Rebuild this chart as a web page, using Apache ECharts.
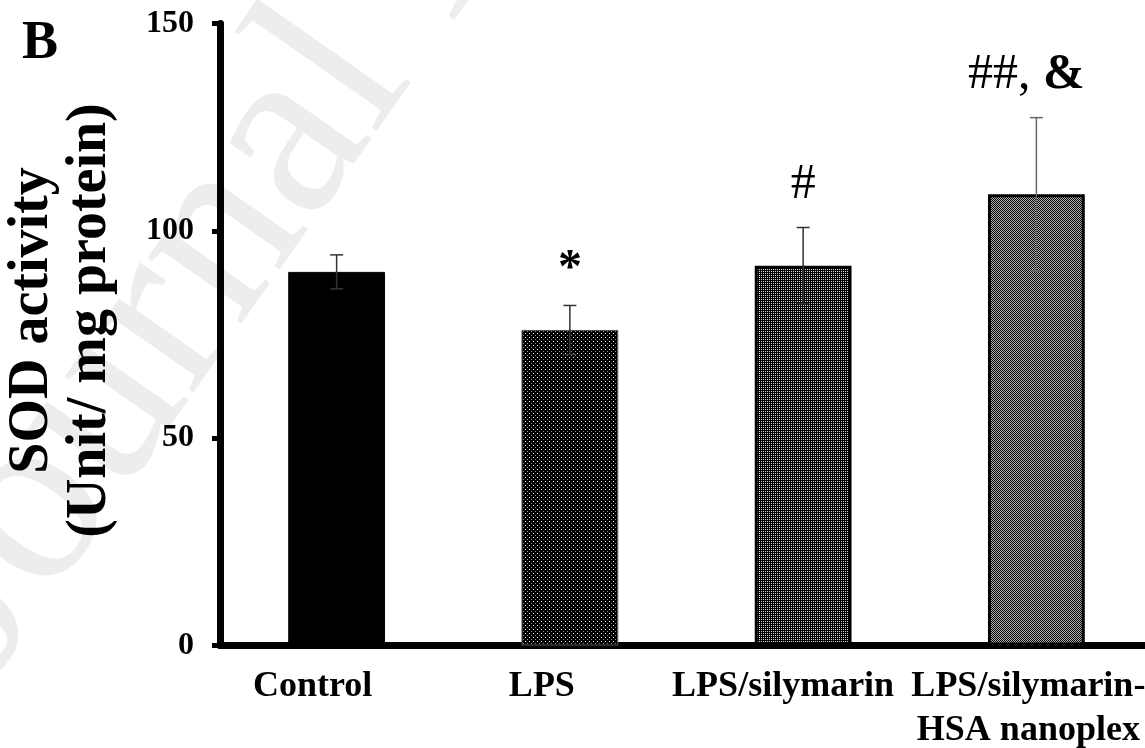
<!DOCTYPE html>
<html>
<head>
<meta charset="utf-8">
<script src="https://cdn.jsdelivr.net/npm/echarts@6/dist/echarts.min.js"></script>
<style>
html,body{margin:0;padding:0;background:#fff;}
#chart{width:1145px;height:748px;}
</style>
</head>
<body>
<div id="chart"></div>
<script>
const categories = ['Control', 'LPS', 'LPS/silymarin', 'LPS/silymarin-\nHSA nanoplex'];
const meanValues = [90.1, 76.1, 91.6, 108.8];
const sdValues = [4.1, 5.9, 9.2, 18.5];
const significance = ['', '*', '#', '##, &'];
const yTickLabels = [0, 50, 100, 150];

function makePattern(size, draw) {
  const c = document.createElement('canvas');
  c.width = size; c.height = size;
  const ctx = c.getContext('2d');
  draw(ctx);
  return c;
}
const lpsPattern = makePattern(4, ctx => {
  ctx.fillStyle = '#000'; ctx.fillRect(0, 0, 4, 4);
  ctx.fillStyle = '#ffffff'; ctx.fillRect(1, 1, 1, 1);
  ctx.fillStyle = '#8a8a8a'; ctx.fillRect(3, 3, 1, 1);
});
const silyPattern = makePattern(2, ctx => {
  ctx.fillStyle = '#000'; ctx.fillRect(0, 0, 2, 2);
  ctx.fillStyle = '#d8d8d8'; ctx.fillRect(1, 1, 1, 1);
});
const nanoPattern = makePattern(2, ctx => {
  ctx.fillStyle = '#b4b4b4'; ctx.fillRect(0, 0, 2, 2);
  ctx.fillStyle = '#000'; ctx.fillRect(0, 0, 1, 1); ctx.fillRect(1, 1, 1, 1);
});
const barStyles = [
  { color: '#000', borderColor: '#000', borderWidth: 1 },
  { color: { image: lpsPattern, repeat: 'repeat' }, borderColor: '#555', borderWidth: 1 },
  { color: { image: silyPattern, repeat: 'repeat' }, borderColor: '#000', borderWidth: 3 },
  { color: { image: nanoPattern, repeat: 'repeat' }, borderColor: '#000', borderWidth: 3 }
];

const FONT = '"Liberation Serif", "Times New Roman", serif';
const labelShift = [48, 56, 40, 16];
const richLabels = {};
labelShift.forEach((p, i) => {
  richLabels['l' + i] = {
    fontFamily: FONT, fontWeight: 'bold', fontSize: 36, lineHeight: 44, color: '#000',
    padding: [0, p, 0, 0]
  };
});

const chart = echarts.init(document.getElementById('chart'), null, { renderer: 'canvas' });

const option = {
  animation: false,
  backgroundColor: '#fff',
  title: {
    text: 'B', left: 22, top: 17, padding: 0,
    textStyle: { fontFamily: FONT, fontWeight: 'bold', fontSize: 54, color: '#000' }
  },
  graphic: [{
    type: 'text', x: 40, y: 715, rotation: 55 * Math.PI / 180, z: -10, silent: true,
    style: { text: 'Journal Pre-proof', font: '250px "Liberation Serif"', fill: '#ededed', textVerticalAlign: 'bottom' }
  }],
  grid: { left: 220, width: 933, top: 23.5, bottom: 102.5, containLabel: false, outerBoundsMode: 'none' },
  xAxis: {
    type: 'category',
    data: categories,
    boundaryGap: true,
    axisLine: { lineStyle: { color: '#000', width: 7 } },
    axisTick: { show: false },
    axisLabel: {
      interval: 0, margin: 19, color: '#000',
      fontFamily: FONT, fontWeight: 'bold', fontSize: 36, lineHeight: 44,
      formatter: (value, idx) => value.split('\n').map(s => '{l' + idx + '|' + s + '}').join('\n'),
      rich: richLabels
    },
    splitLine: { show: false }
  },
  yAxis: {
    type: 'value',
    min: 0, max: 150, interval: 50,
    name: 'SOD activity\n(Unit/ mg protein)',
    nameLocation: 'middle',
    nameRotate: 90,
    nameGap: 100,
    nameTextStyle: {
      fontFamily: FONT, fontWeight: 'bold', fontSize: 56, lineHeight: 58, color: '#000',
      padding: [0, 0, 0, 28]
    },
    axisLine: { show: true, lineStyle: { color: '#000', width: 7 } },
    axisTick: { show: true, length: 8, lineStyle: { color: '#000', width: 5 } },
    axisLabel: {
      margin: 26, color: '#000', fontFamily: FONT, fontWeight: 'bold', fontSize: 32,
      formatter: v => (yTickLabels.indexOf(v) >= 0 ? String(v) : '')
    },
    splitLine: { show: false }
  },
  series: [
    {
      type: 'bar',
      barWidth: '41.5%',
      data: meanValues.map((v, i) => ({ value: v, itemStyle: barStyles[i] })),
      z: 2
    },
    {
      type: 'custom',
      z: 5,
      data: categories.map((c, i) => [i, meanValues[i], sdValues[i]]),
      renderItem: function (params, api) {
        const i = api.value(0), m = api.value(1), s = api.value(2);
        const top = api.coord([i, m + s]);
        const bot = api.coord([i, m - s]);
        const half = 6.5;
        const stroke = params.dataIndex === 3 ? '#666' : '#333';
        const lineStyle = { stroke: stroke, lineWidth: 1.5 };
        const children = [
          { type: 'line', shape: { x1: top[0], y1: top[1], x2: bot[0], y2: bot[1] }, style: lineStyle },
          { type: 'line', shape: { x1: top[0] - half, y1: top[1], x2: top[0] + half, y2: top[1] }, style: lineStyle },
          { type: 'line', shape: { x1: bot[0] - half, y1: bot[1], x2: bot[0] + half, y2: bot[1] }, style: lineStyle }
        ];
        const mark = significance[params.dataIndex];
        if (mark) {
          let text = mark, rich = {};
          if (mark.indexOf('&') >= 0) {
            text = '{a|##, }{b|&}';
            rich = {
              a: { fontFamily: FONT, fontSize: 50, fontWeight: 'normal', fill: '#000' },
              b: { fontFamily: FONT, fontSize: 50, fontWeight: 'bold', fill: '#000' }
            };
          }
          children.push({
            type: 'text',
            style: {
              text: text, rich: rich,
              x: top[0] - (mark.length > 1 ? 10 : 0),
              y: top[1] - (mark === '*' ? 36 : 43),
              fontFamily: FONT, fontSize: mark === '*' ? 48 : 50,
              fontWeight: mark === '*' ? 'bold' : 'normal',
              fill: '#000', align: 'center', verticalAlign: 'middle'
            }
          });
        }
        return { type: 'group', children: children };
      }
    }
  ]
};
chart.setOption(option);
</script>
</body>
</html>
